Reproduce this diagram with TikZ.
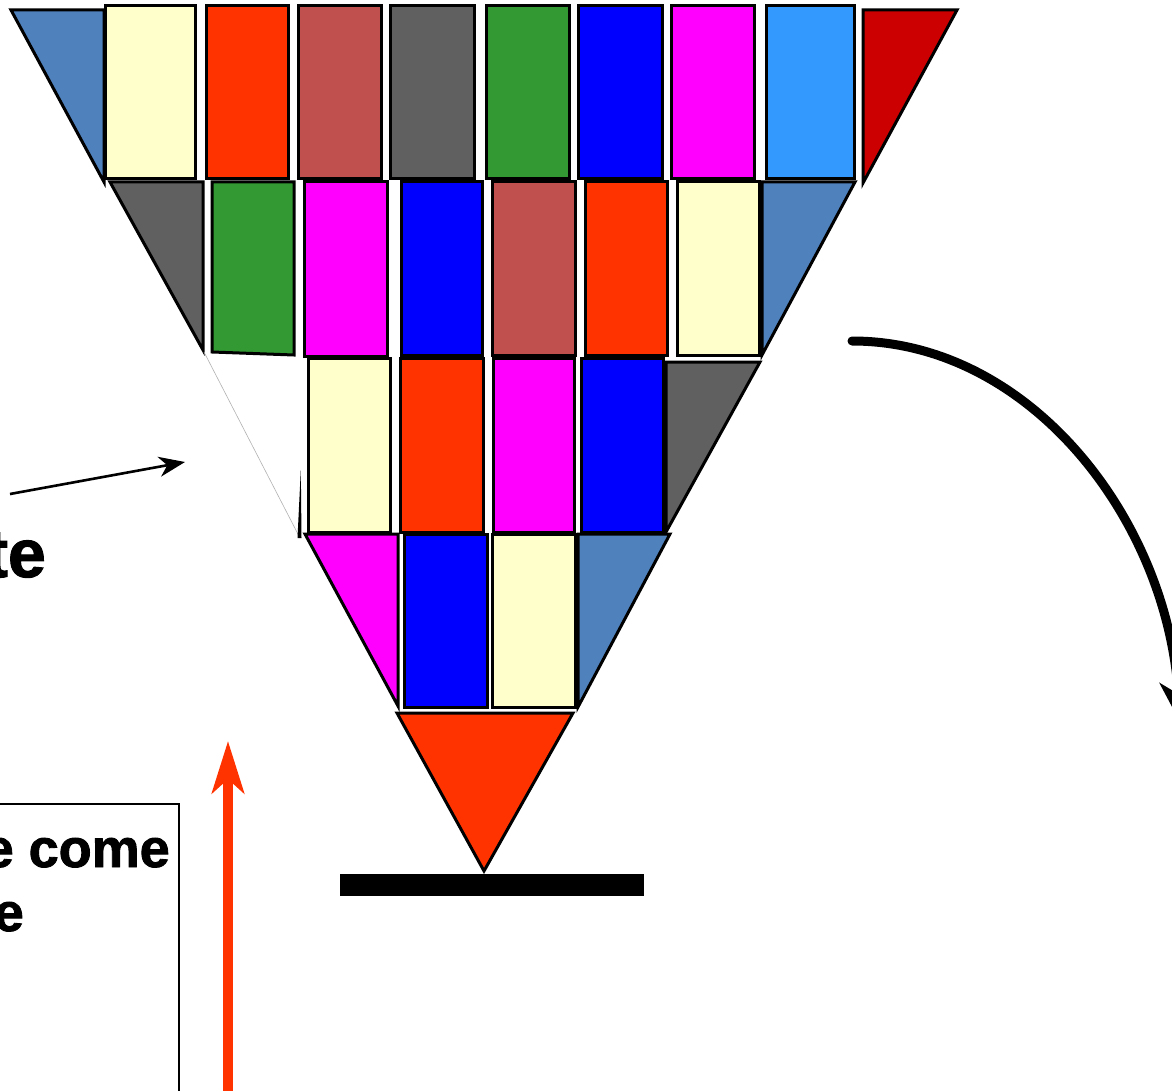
\documentclass[tikz,border=0pt]{standalone}
\usepackage{fontspec}
\setmainfont{Liberation Sans}
\newfontfamily\heavysans[FakeBold=1.6]{Liberation Sans Bold}
\usetikzlibrary{arrows.meta}
\definecolor{steel}{HTML}{4F81BD}
\definecolor{cream}{HTML}{FFFFCC}
\definecolor{vermil}{HTML}{FF3300}
\definecolor{brick}{HTML}{C0504D}
\definecolor{slate}{HTML}{606060}
\definecolor{leaf}{HTML}{339933}
\definecolor{pureblue}{HTML}{0000FF}
\definecolor{fuchsia}{HTML}{FF00FF}
\definecolor{sky}{HTML}{3399FF}
\definecolor{crimson}{HTML}{CC0000}
\tikzset{
  tile/.style={draw=black, line width=3pt, line join=miter},
  label text/.style={inner sep=0pt},
}
\newcommand\brick[5]{\draw[tile,fill=#1] (#2,#3) rectangle (#4,#5);}
\begin{document}
\begin{tikzpicture}[x=1pt,y=-1pt]
\useasboundingbox (0,0) rectangle (1172,1091);
\fill[white] (0,0) rectangle (1172,1091);

% first course
\draw[tile,fill=steel] (11,10) -- (104,10) -- (104,182) -- cycle;
\brick{cream}{105}{6}{195}{179}
\brick{vermil}{206}{6}{288}{179}
\brick{brick}{298}{6}{381}{179}
\brick{slate}{390}{6}{474}{179}
\brick{leaf}{486}{6}{569}{179}
\brick{pureblue}{578}{6}{662}{179}
\brick{fuchsia}{671}{6}{754}{179}
\brick{sky}{766}{6}{854}{179}
\draw[tile,fill=crimson] (863,10) -- (957,10) -- (863,183) -- cycle;

% second course
\draw[tile,fill=slate] (110,182) -- (203,182) -- (203,350) -- cycle;
\draw[tile,fill=leaf] (212,182) -- (294,182) -- (294,355) -- (212,352) -- cycle;
\brick{fuchsia}{304}{182}{387}{356}
\brick{pureblue}{401}{182}{482}{355}
\brick{brick}{492}{182}{575}{355}
\brick{vermil}{585}{182}{667}{355}
\brick{cream}{677}{182}{759}{355}
\draw[tile,fill=steel] (762,182) -- (855,182) -- (762,355) -- cycle;

% third course, with the missing corner piece
\draw[gray!60, line width=0.6pt] (204,352) -- (300,538);
\fill[black] (300.8,470) -- (301.5,538) -- (297.5,538) -- cycle;
\brick{cream}{308}{358}{390}{532}
\brick{vermil}{400}{358}{483}{532}
\brick{fuchsia}{493}{358}{574}{532}
\brick{pureblue}{581}{358}{663}{532}
\draw[tile,fill=slate] (666,362) -- (760,362) -- (666,532) -- cycle;

% fourth course
\draw[tile,fill=fuchsia] (305,534) -- (398,534) -- (398,706) -- cycle;
\brick{pureblue}{404}{534}{487}{707}
\brick{cream}{492}{534}{575}{707}
\draw[tile,fill=steel] (578,534) -- (670,534) -- (578,707) -- cycle;

% keystone and base
\draw[tile,fill=vermil] (397,713) -- (573,713) -- (484,871) -- cycle;
\fill[black] (340,874) rectangle (644,896);

% pointer to the gap
\coordinate (gapfrom) at (10,494);
\coordinate (gapto) at (185,462);
\draw[line width=2.6pt, -{Stealth[length=26pt, width=20pt, inset=8pt]}] (gapfrom) -- (gapto);
\node[label text, font=\heavysans\fontsize{68}{80}\selectfont, anchor=base east] (te) at (46,577) {te};

% caption box
\draw[line width=2.2pt] (-20,804) rectangle (179,1110);
\node[label text, font=\heavysans\fontsize{54}{64}\selectfont, anchor=base east] (line1) at (170,867) {e come};
\node[label text, font=\heavysans\fontsize{54}{64}\selectfont, anchor=base east] (line2) at (24,931) {e};

% upward arrow
\coordinate (upfrom) at (228,1100);
\coordinate (upto) at (228,741);
\draw[vermil, line width=10pt, -{Stealth[length=52pt, width=32pt, inset=14pt]}] (upfrom) -- (upto);

% curved arrow on the right
\coordinate (arcfrom) at (852,341);
\coordinate (arcto) at (1180,722);
\draw[line width=9pt, line cap=round, -{Stealth[length=40pt, width=36pt, inset=12pt]}]
  (arcfrom) .. controls (1030,341) and (1168,520) .. (arcto);
\end{tikzpicture}
\end{document}
